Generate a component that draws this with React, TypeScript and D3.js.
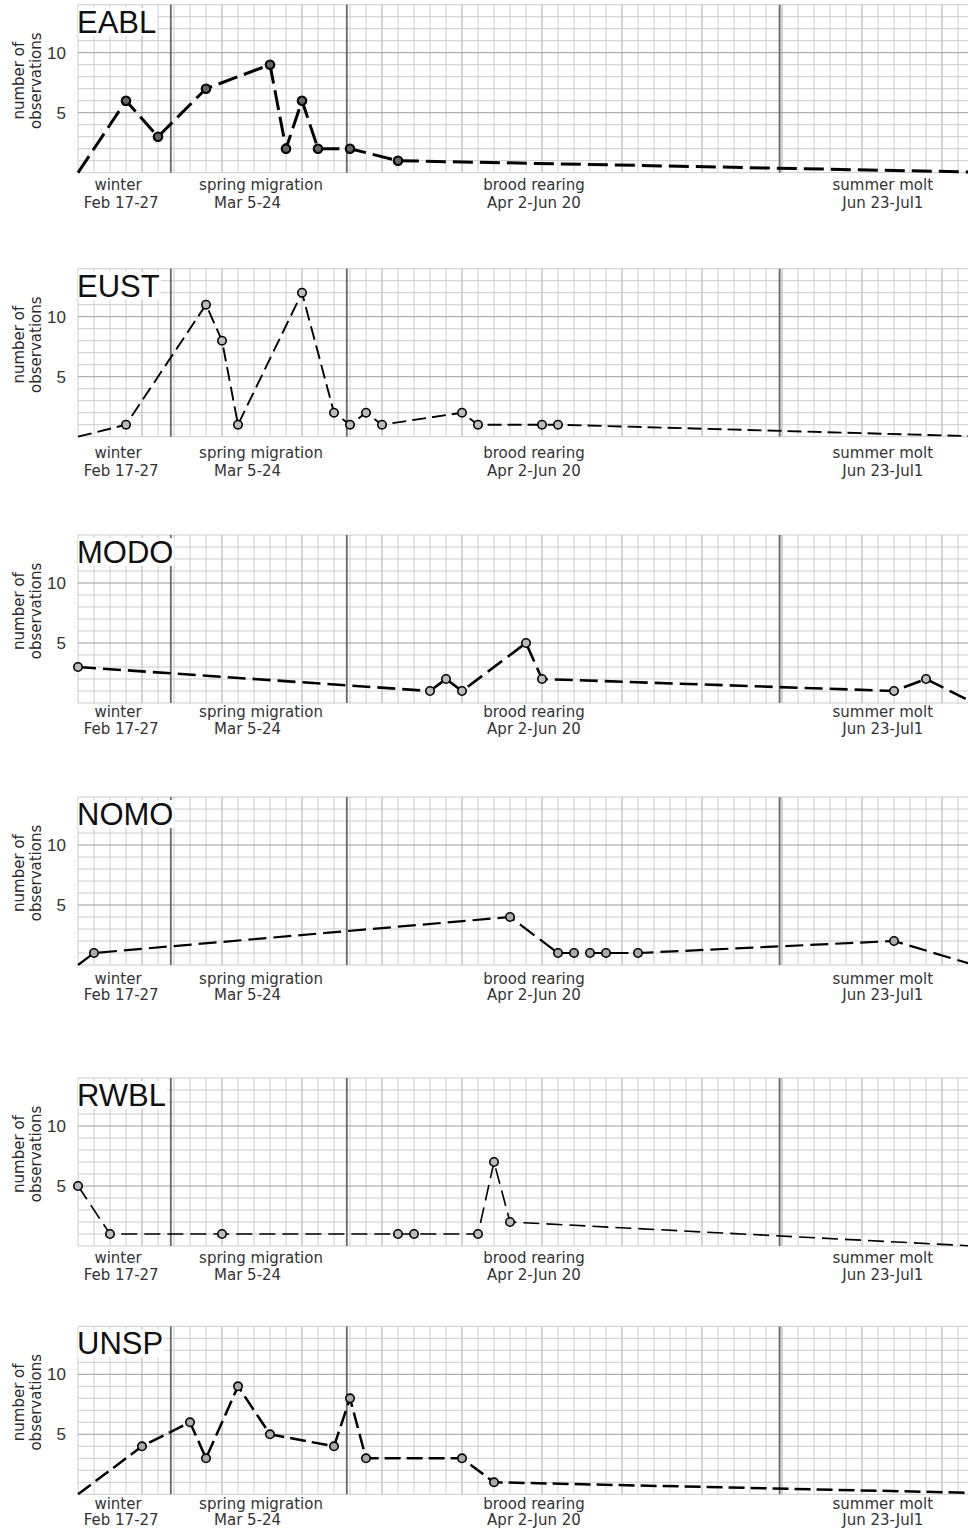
import React from 'react';
import * as d3 from 'd3';

// ---- data (x = sampling-event index on the grid, y = number of observations) ----
const SPECIES = ['EABL', 'EUST', 'MODO', 'NOMO', 'RWBL', 'UNSP'];

const EABL: [number, number][] = [[0, 0], [3, 6], [5, 3], [8, 7], [12, 9], [13, 2], [14, 6], [15, 2], [17, 2], [20, 1], [58, 0]];
const EUST: [number, number][] = [[0, 0], [3, 1], [8, 11], [9, 8], [10, 1], [14, 12], [16, 2], [17, 1], [18, 2], [19, 1], [24, 2], [25, 1], [29, 1], [30, 1], [57, 0]];
const MODO: [number, number][] = [[0, 3], [22, 1], [23, 2], [24, 1], [28, 5], [29, 2], [51, 1], [53, 2], [56, 0]];
const NOMO: [number, number][] = [[0, 0], [1, 1], [27, 4], [30, 1], [31, 1], [32, 1], [33, 1], [35, 1], [51, 2], [56, 0]];
const RWBL: [number, number][] = [[0, 5], [2, 1], [9, 1], [20, 1], [21, 1], [25, 1], [26, 7], [27, 2], [56, 0]];
const UNSP: [number, number][] = [[0, 0], [4, 4], [7, 6], [8, 3], [10, 9], [12, 5], [16, 4], [17, 8], [18, 3], [24, 3], [26, 1], [60, 0]];

const Y_TICKS = [5, 10];
const SEASON_NAMES = ['winter', 'spring migration', 'brood rearing', 'summer molt'];
const SEASON_DATES = ['Feb 17-27', 'Mar 5-24', 'Apr 2-Jun 20', 'Jun 23-Jul1'];
const SEASON_BOUNDS = [5.8, 16.8, 43.85];

// ---- layout ----
const W = 968;
const H = 1531;
const NAME_K = [2.5, 11.44, 28.5, 50.3];
const DATE_K = [2.7, 10.6, 28.5, 50.3];
const PANEL_BOTTOM = [172.7, 436.7, 703, 965, 1246, 1494.3];
const LABEL1_Y = [185, 453, 712, 979, 1258, 1504];
const LABEL2_Y = [203, 471, 729, 995, 1275, 1520];
const LINE_W = [3, 1.9, 2.6, 2.2, 1.6, 2.5];
const DASH = ['20,7', '14,6', '18,7', '18,7', '16,7', '16,6'];
const MARK_FILL = ['#666', '#bbb', '#bbb', '#aaa', '#bbb', '#aaa'];

const ALL = [EABL, EUST, MODO, NOMO, RWBL, UNSP];

const LABEL_FONT = '"DejaVu Sans", sans-serif';
const ARIAL = '"Liberation Sans", Arial, sans-serif';

export default function App() {
  const x = d3.scaleLinear().domain([0, 56]).range([78, 78 + 16 * 56]);
  const xRight = W;
  const gridK = d3.range(0, 57);
  const gridV = d3.range(0, 15);

  return (
    <svg width={W} height={H} style={{ position: 'absolute', left: 0, top: 0, background: '#fff' }}>
      <rect x={0} y={0} width={W} height={H} fill="#fff" />
      {ALL.map((data, i) => {
        const bottom = PANEL_BOTTOM[i];
        const y = d3.scaleLinear().domain([0, 14]).range([bottom, bottom - 168]);
        const top = y(14);
        const line = d3
          .line<[number, number]>()
          .x((d) => x(d[0]))
          .y((d) => y(d[1]));
        const title = SPECIES[i];
        return (
          <g key={title}>
            {gridK.map((k) => (
              <line
                key={'v' + k}
                x1={x(k)}
                x2={x(k)}
                y1={top}
                y2={bottom}
                stroke={k % 5 === 4 ? '#a8a8a8' : '#cccccc'}
                strokeWidth={1}
              />
            ))}
            {gridV.map((v) => (
              <line
                key={'h' + v}
                x1={x(0)}
                x2={xRight}
                y1={y(v)}
                y2={y(v)}
                stroke={v % 5 === 0 && v > 0 ? '#9c9c9c' : '#cccccc'}
                strokeWidth={1}
              />
            ))}
            {SEASON_BOUNDS.map((b, j) => (
              <line key={'s' + j} x1={x(b)} x2={x(b)} y1={top} y2={bottom} stroke="#666" strokeWidth={1.8} />
            ))}
            <TitleBox text={title} x={77} baseline={bottom - 140} />
            {Y_TICKS.map((t) => (
              <text
                key={'t' + t}
                x={66}
                y={y(t) + 6}
                textAnchor="end"
                fontFamily={ARIAL}
                fontSize={17}
                fill="#333"
              >
                {t}
              </text>
            ))}
            <g transform={`translate(0, ${bottom - 92})`}>
              <text transform="translate(24,0) rotate(-90)" textAnchor="middle" fontFamily={LABEL_FONT} fontSize={15} fill="#2a2a2a">
                number of
              </text>
              <text transform="translate(41,0) rotate(-90)" textAnchor="middle" fontFamily={LABEL_FONT} fontSize={15} fill="#2a2a2a">
                observations
              </text>
            </g>
            {SEASON_NAMES.map((n, j) => (
              <text
                key={'n' + j}
                x={x(NAME_K[j])}
                y={LABEL1_Y[i] + 5}
                textAnchor="middle"
                fontFamily={LABEL_FONT}
                fontSize={15}
                fill="#333"
              >
                {n}
              </text>
            ))}
            {SEASON_DATES.map((n, j) => (
              <text
                key={'d' + j}
                x={x(DATE_K[j])}
                y={LABEL2_Y[i] + 5}
                textAnchor="middle"
                fontFamily={LABEL_FONT}
                fontSize={15}
                fill="#333"
              >
                {n}
              </text>
            ))}
            <path d={line(data) || ''} fill="none" stroke="#000" strokeWidth={LINE_W[i]} strokeDasharray={DASH[i]} />
            {data
              .filter((d) => d[1] > 0)
              .map((d, j) => (
                <circle
                  key={'m' + j}
                  cx={x(d[0])}
                  cy={y(d[1])}
                  r={4.2}
                  fill={MARK_FILL[i]}
                  stroke="#000"
                  strokeWidth={i === 0 ? 2.2 : 1.6}
                />
              ))}
          </g>
        );
      })}
    </svg>
  );
}

function TitleBox({ text, x, baseline }: { text: string; x: number; baseline: number }) {
  const ref = React.useRef<SVGTextElement>(null);
  const [w, setW] = React.useState(text.length * 21);
  React.useEffect(() => {
    if (ref.current) setW(ref.current.getBBox().width);
  }, [text]);
  return (
    <g>
      <rect x={x + 1} y={baseline - 25} width={w} height={28} fill="#fff" />
      <text ref={ref} x={x} y={baseline} fontFamily={ARIAL} fontSize={31} fill="#111">
        {text}
      </text>
    </g>
  );
}
